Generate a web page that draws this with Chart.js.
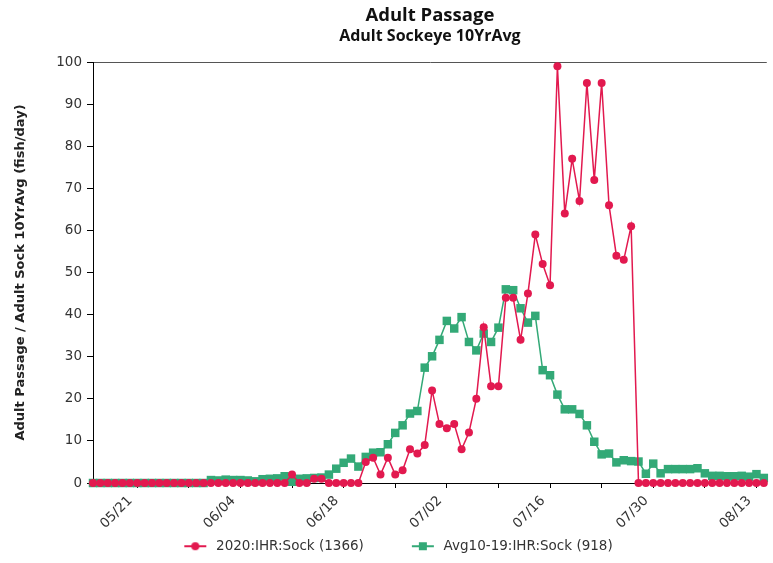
<!DOCTYPE html>
<html>
<head>
<meta charset="utf-8">
<script src="https://cdn.jsdelivr.net/npm/chart.js@4.4.1/dist/chart.umd.min.js"></script>
<style>
    html, body { margin: 0; padding: 0; background: #fff; overflow: hidden; }
    /* the original chart is a bit wider on the left, so the legend sits left of centre */
    #chart { margin-left: -14px; display: block; }
</style>
</head>
<body>
<canvas id="chart" width="787" height="563"></canvas>
<script>
// day index 0 = 05/15, one value per day
const tickDays = [6, 20, 34, 48, 62, 76, 90];
const tickLabels = ['05/21', '06/04', '06/18', '07/02', '07/16', '07/30', '08/13'];
const weekTicks = [6, 13, 20, 27, 34, 41, 48, 55, 62, 69, 76, 83, 90];

const seriesNames = ['2020:IHR:Sock (1366)', 'Avg10-19:IHR:Sock (918)'];

const sock2020 = [
    0, 0, 0, 0, 0, 0, 0, 0, 0, 0, 0, 0, 0, 0, 0, 0, 0, 0, 0, 0,
    0, 0, 0, 0, 0, 0, 0, 2, 0, 0, 1, 1, 0, 0, 0, 0, 0, 5, 6, 2,
    6, 2, 3, 8, 7, 9, 22, 14, 13, 14, 8, 12, 20, 37, 23, 23, 44, 44, 34, 45,
    59, 52, 47, 99, 64, 77, 67, 95, 72, 95, 66, 54, 53, 61, 0, 0, 0, 0, 0, 0,
    0, 0, 0, 0, 0, 0, 0, 0, 0, 0, 0, 0
];

const sockAvg = [
    0, 0, 0, 0, 0, 0, 0, 0, 0, 0, 0, 0, 0, 0, 0, 0, 0.7, 0.6, 0.8, 0.7,
    0.7, 0.6, 0.4, 0.9, 1, 1.1, 1.6, 0.3, 1, 1.1, 1.2, 1.3, 2, 3.4, 4.8, 5.8, 3.9, 6.2, 7.2, 7.3,
    9.2, 11.9, 13.7, 16.5, 17.1, 27.4, 30.1, 34, 38.5, 36.7, 39.4, 33.5, 31.5, 35.5, 33.5, 36.9, 46, 45.8, 41.5, 38.1,
    39.7, 26.8, 25.6, 21, 17.5, 17.5, 16.4, 13.7, 9.8, 6.8, 7, 4.9, 5.4, 5.2, 5.1, 2.2, 4.6, 2.3, 3.3, 3.3,
    3.3, 3.3, 3.5, 2.3, 1.7, 1.7, 1.6, 1.6, 1.7, 1.5, 2.1, 1.2
];

const RED = '#e2194f';
const GREEN = '#33a977';

// line + marker icon for the legend
function legendIcon(color, shape) {
    const c = document.createElement('canvas');
    c.width = 63;
    c.height = 12;
    const g = c.getContext('2d');
    g.strokeStyle = color;
    g.fillStyle = color;
    g.lineWidth = 2;
    g.beginPath();
    g.moveTo(38, 6);
    g.lineTo(60, 6);
    g.stroke();
    if (shape === 'circle') {
        g.beginPath();
        g.arc(49, 6, 4, 0, Math.PI * 2);
        g.fill();
    } else {
        g.fillRect(45, 2, 8, 8);
    }
    return c;
}
const icons = [legendIcon(RED, 'circle'), legendIcon(GREEN, 'rect')];

const ticksFont = { family: 'DejaVu Sans', size: 13.5 };

new Chart(document.getElementById('chart'), {
    type: 'line',
    data: {
        datasets: [
            {
                label: seriesNames[0],
                data: sock2020.map((v, i) => ({ x: i, y: v })),
                borderColor: RED,
                backgroundColor: RED,
                borderWidth: 1.5,
                pointStyle: 'circle',
                pointRadius: 4,
                pointBorderWidth: 0,
                pointBackgroundColor: RED,
                clip: false,
            },
            {
                label: seriesNames[1],
                data: sockAvg.map((v, i) => ({ x: i, y: v })),
                borderColor: GREEN,
                backgroundColor: GREEN,
                borderWidth: 1.5,
                pointStyle: 'rect',
                pointRadius: 6,
                pointBorderWidth: 0,
                pointBackgroundColor: GREEN,
                clip: false,
            },
        ],
    },
    options: {
        responsive: false,
        animation: false,
        devicePixelRatio: 1,
        layout: {
            padding: { left: 0, right: 0, top: 0, bottom: 0 },
        },
        plugins: {
            title: {
                display: true,
                fullSize: false,
                text: 'Adult Passage',
                color: '#111',
                font: { family: 'Open Sans', size: 18.5, weight: 'bold' },
                padding: { top: 5, bottom: 0 },
            },
            subtitle: {
                display: true,
                fullSize: false,
                text: 'Adult Sockeye 10YrAvg',
                color: '#111',
                font: { family: 'Open Sans', size: 16, weight: 'bold' },
                padding: { top: 0, bottom: 15.6 },
            },
            legend: {
                position: 'bottom',
                labels: {
                    usePointStyle: true,
                    pointStyleWidth: 63,
                    padding: 10,
                    color: '#333',
                    font: { family: 'DejaVu Sans', size: 13.5 },
                    generateLabels(chart) {
                        const items = Chart.defaults.plugins.legend.labels.generateLabels(chart);
                        items.forEach((it, i) => { it.pointStyle = icons[i]; });
                        return items;
                    },
                },
            },
            tooltip: { enabled: false },
        },
        scales: {
            x: {
                type: 'linear',
                min: 0,
                max: 91.4,
                afterFit: (scale) => { scale.height = 46.5; },
                afterBuildTicks: (scale) => {
                    scale.ticks = weekTicks.map((v) => ({ value: v }));
                },
                grid: {
                    drawOnChartArea: false,
                    tickColor: '#000',
                    tickLength: 5,
                },
                border: { color: '#000', width: 1 },
                ticks: {
                    autoSkip: false,
                    maxRotation: 45,
                    minRotation: 45,
                    padding: 5,
                    labelOffset: -7,
                    color: '#333',
                    font: ticksFont,
                    callback: (v) => {
                        const k = tickDays.indexOf(v);
                        return k >= 0 ? tickLabels[k] : '';
                    },
                },
            },
            y: {
                min: 0,
                max: 100,
                afterFit: (scale) => { scale.width = 107; },
                grid: {
                    drawOnChartArea: true,
                    color: (ctx) => (ctx.tick && ctx.tick.value === 100 ? '#555' : 'rgba(0,0,0,0)'),
                    tickColor: '#000',
                    tickLength: 6,
                },
                border: { color: '#000', width: 1 },
                ticks: {
                    stepSize: 10,
                    padding: 5,
                    color: '#333',
                    font: ticksFont,
                },
                title: {
                    display: true,
                    text: 'Adult Passage / Adult Sock 10YrAvg (fish/day)',
                    color: '#222',
                    font: { family: 'DejaVu Sans', size: 13, weight: 'bold' },
                    padding: { top: 27, bottom: 4 },
                },
            },
        },
    },
});
</script>
</body>
</html>
